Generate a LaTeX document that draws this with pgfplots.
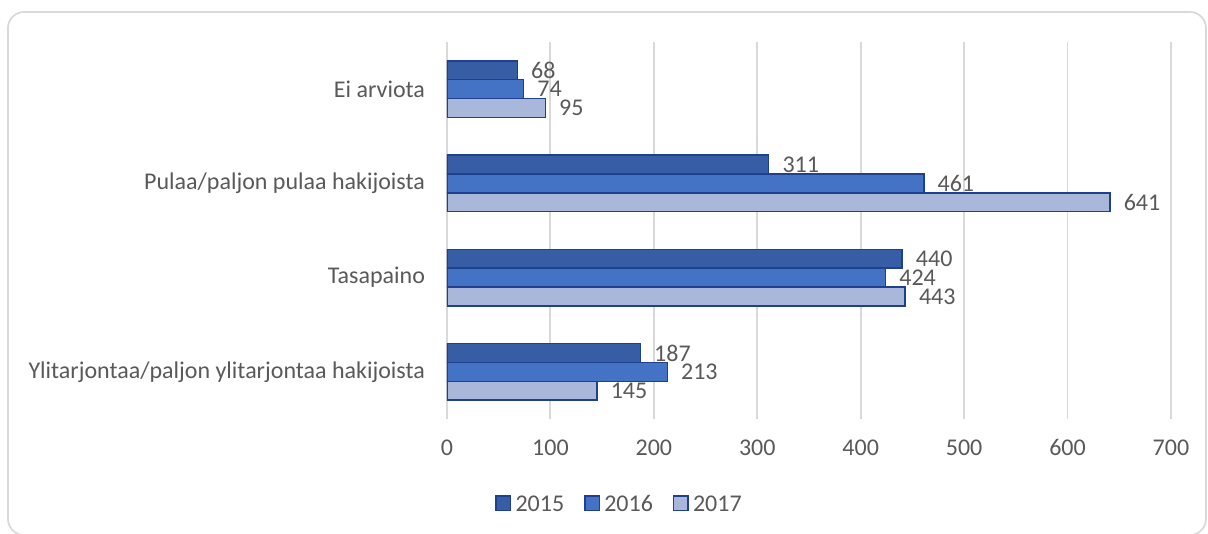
\documentclass[border=0pt]{standalone}
\usepackage{pgfplots}
\pgfplotsset{compat=1.18}
\usepackage{fontspec}
\setmainfont{Carlito}
\definecolor{cA}{HTML}{375DA5}
\definecolor{cB}{HTML}{4472C4}
\definecolor{cC}{HTML}{A9B7DB}
\definecolor{edge}{HTML}{1F3F8F}
\definecolor{txt}{HTML}{595959}
\definecolor{grd}{HTML}{D9D9D9}
\begin{document}
\begin{tikzpicture}
\useasboundingbox (-335.25pt,-85.5pt) rectangle (570.75pt,314.25pt);
\draw[grd, line width=1.3pt, rounded corners=12pt] (-329.25pt,305.25pt) rectangle (569.25pt,-87pt);
\begin{axis}[
  at={(0,0)}, anchor=south west,
  scale only axis,
  width=543pt, height=282.75pt,
  xbar, bar width=0.2,
  xmin=0, xmax=700, ymin=-0.5, ymax=3.5,
  xtick={0,100,...,700},
  ytick={0,1,2,3},
  yticklabels={Ylitarjontaa/paljon ylitarjontaa hakijoista, Tasapaino, Pulaa/paljon pulaa hakijoista, Ei arviota},
  major tick length=0pt,
  axis line style={draw=none},
  xmajorgrids, grid style={grd, line width=1.4pt},
  /pgf/number format/assume math mode=true,
  tick label style={font=\fontsize{18}{21}\selectfont, text=txt},
  xticklabel style={yshift=-12pt},
  yticklabel style={xshift=-13pt},
  nodes near coords,
  nodes near coords style={anchor=west, xshift=6.5pt, inner ysep=0pt, font=\fontsize{18}{21}\selectfont, text=txt},
  every axis plot/.append style={draw=edge, line width=1.1pt},
  legend columns=3,
  legend style={draw=none, at={(0.237,-0.223)}, anchor=center, font=\fontsize{18}{21}\selectfont, text=txt,
    inner sep=0pt, nodes={inner xsep=0pt, inner ysep=1pt, text height=12.5pt, text depth=0pt},
    /tikz/every even column/.append style={column sep=15pt}},
  legend image code/.code={\draw[#1, line width=1.1pt] (0pt,-5.4pt) rectangle (10.8pt,5.4pt); \path[draw=none, fill=none] (0pt,0pt) -- (14.5pt,0pt);},
]
\addplot[fill=cA, bar shift=0.2] coordinates {(187,0) (440,1) (311,2) (68,3)};
\addplot[fill=cB, bar shift=0] coordinates {(213,0) (424,1) (461,2) (74,3)};
\addplot[fill=cC, bar shift=-0.2] coordinates {(145,0) (443,1) (641,2) (95,3)};
\legend{2015,2016,2017}
\end{axis}
\end{tikzpicture}
\end{document}
